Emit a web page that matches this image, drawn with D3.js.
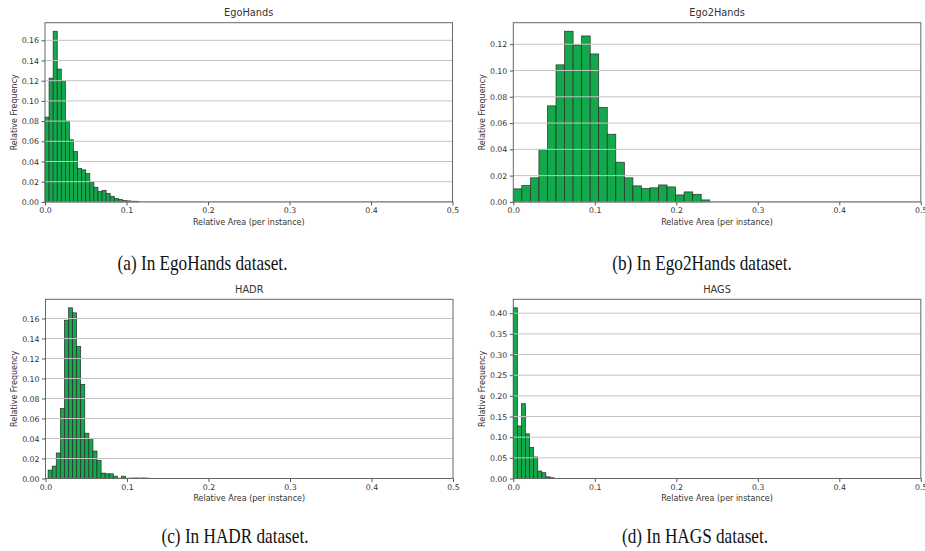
<!DOCTYPE html>
<html>
<head>
<meta charset="utf-8">
<script src="https://cdn.jsdelivr.net/npm/d3@7"></script>
<style>
  body { margin: 0; background: #fff; }
  text { fill: #333; }
</style>
</head>
<body>
<div id="chart"></div>
<script>
//relative frequency of each histogram bin
const egoHandsFreq = [0.084, 0.1225, 0.169, 0.1315, 0.1195, 0.08, 0.0615, 0.0498, 0.033, 0.0317, 0.028, 0.0195, 0.0145, 0.0102, 0.0115, 0.0083, 0.0056, 0.0033, 0.0023, 0.0013, 0.001, 0.0007, 0.0006];
const ego2HandsFreq = [0.0099, 0.0124, 0.0183, 0.0398, 0.0731, 0.1043, 0.1299, 0.1195, 0.1263, 0.1126, 0.072, 0.0515, 0.0302, 0.0183, 0.0122, 0.0101, 0.0107, 0.0129, 0.0114, 0.0053, 0.0076, 0.0058, 0.0015];
const hadrFreq = [0.0084, 0.0124, 0.0255, 0.0701, 0.1583, 0.1707, 0.1657, 0.1321, 0.0942, 0.0453, 0.0399, 0.0275, 0.0181, 0.0054, 0.0047, 0.0047, 0.0023, 0.0003, 0.0023, 0.0003, 0.0004, 0.0005, 0.0004, 0.0005, 0.0003];
const hagsFreq = [0.413, 0.127, 0.181, 0.108, 0.075, 0.052, 0.018, 0.014, 0.004, 0.0018];

//bin start and bin width of every dataset
const binStart = { EgoHands: 0, Ego2Hands: 0, HADR: 0.0032, HAGS: 0 };
const binWidth = { EgoHands: 0.005, Ego2Hands: 0.01048, HADR: 0.005, HAGS: 0.005 };

//tick labels
const xTicks = [0, 0.1, 0.2, 0.3, 0.4, 0.5];
const yTicksSmall = [0, 0.02, 0.04, 0.06, 0.08, 0.1, 0.12, 0.14, 0.16];
const yTicksEgo2 = [0, 0.02, 0.04, 0.06, 0.08, 0.1, 0.12];
const yTicksHags = [0, 0.05, 0.1, 0.15, 0.2, 0.25, 0.3, 0.35, 0.4];

const titles = ["EgoHands", "Ego2Hands", "HADR", "HAGS"];
const captions = ["(a) In EgoHands dataset.", "(b) In Ego2Hands dataset.", "(c) In HADR dataset.", "(d) In HAGS dataset."];

//panels
const panels = [
  { title: titles[0], caption: captions[0], freq: egoHandsFreq, yTicks: yTicksSmall, left: 45, top: 22.7, capX: 202.5, capY: 270 },
  { title: titles[1], caption: captions[1], freq: ego2HandsFreq, yTicks: yTicksEgo2, left: 513.3, top: 22.7, capX: 702, capY: 270 },
  { title: titles[2], caption: captions[2], freq: hadrFreq, yTicks: yTicksSmall, left: 45.5, top: 299.3, capX: 235, capY: 543 },
  { title: titles[3], caption: captions[3], freq: hagsFreq, yTicks: yTicksHags, left: 513.3, top: 299.3, capX: 695, capY: 543 },
];

//size
const width = 925;
const height = 551;
const plotW = 407.5;
const plotH = 179.2;

const svg = d3
  .select("#chart")
  .append("svg")
  .attr("width", width)
  .attr("height", height)
  .style("font-family", "'DejaVu Sans', sans-serif");

svg.append("rect").attr("width", width).attr("height", height).attr("fill", "#fff");

panels.forEach((p) => {
  const g = svg.append("g").attr("transform", `translate(${p.left},${p.top})`);

  const x = d3.scaleLinear().domain([0, 0.5]).range([0, plotW]);
  const y = d3
    .scaleLinear()
    .domain([0, d3.max(p.freq) * 1.05])
    .range([plotH, 0]);

  const start = binStart[p.title];
  const bw = binWidth[p.title];

  //bars
  g.selectAll("rect.bar")
    .data(p.freq)
    .join("rect")
    .attr("class", "bar")
    .attr("x", (d, i) => x(start + i * bw))
    .attr("width", (d, i) => x(start + (i + 1) * bw) - x(start + i * bw))
    .attr("y", (d) => y(d))
    .attr("height", (d) => plotH - y(d))
    .attr("fill", "#12a84b")
    .attr("stroke", "#2b2b2b")
    .attr("stroke-width", 0.7);

  //grid lines over the bars
  g.selectAll("line.grid")
    .data(p.yTicks)
    .join("line")
    .attr("class", "grid")
    .attr("x1", 0)
    .attr("x2", plotW)
    .attr("y1", (d) => y(d))
    .attr("y2", (d) => y(d))
    .attr("stroke", "#c4c4c4")
    .attr("stroke-width", 1);

  //y axis
  g.append("g")
    .call(
      d3.axisLeft(y).tickValues(p.yTicks).tickFormat(d3.format(".2f")).tickSize(3.5).tickPadding(2.5)
    )
    .call((a) => a.select(".domain").remove())
    .call((a) => a.selectAll("line").attr("stroke", "#555"))
    .call((a) => a.selectAll("text").attr("font-size", 7.8).attr("fill", "#333").attr("font-family", "'DejaVu Sans', sans-serif"));

  //x axis
  g.append("g")
    .attr("transform", `translate(0,${plotH})`)
    .call(d3.axisBottom(x).tickValues(xTicks).tickFormat(d3.format(".1f")).tickSize(3.5).tickPadding(2))
    .call((a) => a.select(".domain").remove())
    .call((a) => a.selectAll("line").attr("stroke", "#555"))
    .call((a) => a.selectAll("text").attr("font-size", 7.8).attr("fill", "#333").attr("font-family", "'DejaVu Sans', sans-serif"));

  //frame
  g.append("rect")
    .attr("width", plotW)
    .attr("height", plotH)
    .attr("fill", "none")
    .attr("stroke", "#666")
    .attr("stroke-width", 1);

  //title
  g.append("text")
    .attr("x", plotW / 2)
    .attr("y", -6.5)
    .attr("text-anchor", "middle")
    .attr("font-size", 9.8)
    .text(p.title);

  //axis labels
  g.append("text")
    .attr("x", plotW / 2)
    .attr("y", plotH + 23)
    .attr("text-anchor", "middle")
    .attr("font-size", 8)
    .text("Relative Area (per instance)");

  g.append("text")
    .attr("transform", `translate(${-31},${plotH / 2}) rotate(-90)`)
    .attr("dy", "0.35em")
    .attr("text-anchor", "middle")
    .attr("font-size", 8)
    .text("Relative Frequency");

  //caption
  svg.append("text")
    .attr("transform", `translate(${p.capX},${p.capY}) scale(0.8,1)`)
    .attr("text-anchor", "middle")
    .attr("font-family", "'Liberation Serif', 'Times New Roman', serif")
    .attr("font-size", 21.5)
    .style("fill", "#111")
    .text(p.caption);
});
</script>
</body>
</html>
